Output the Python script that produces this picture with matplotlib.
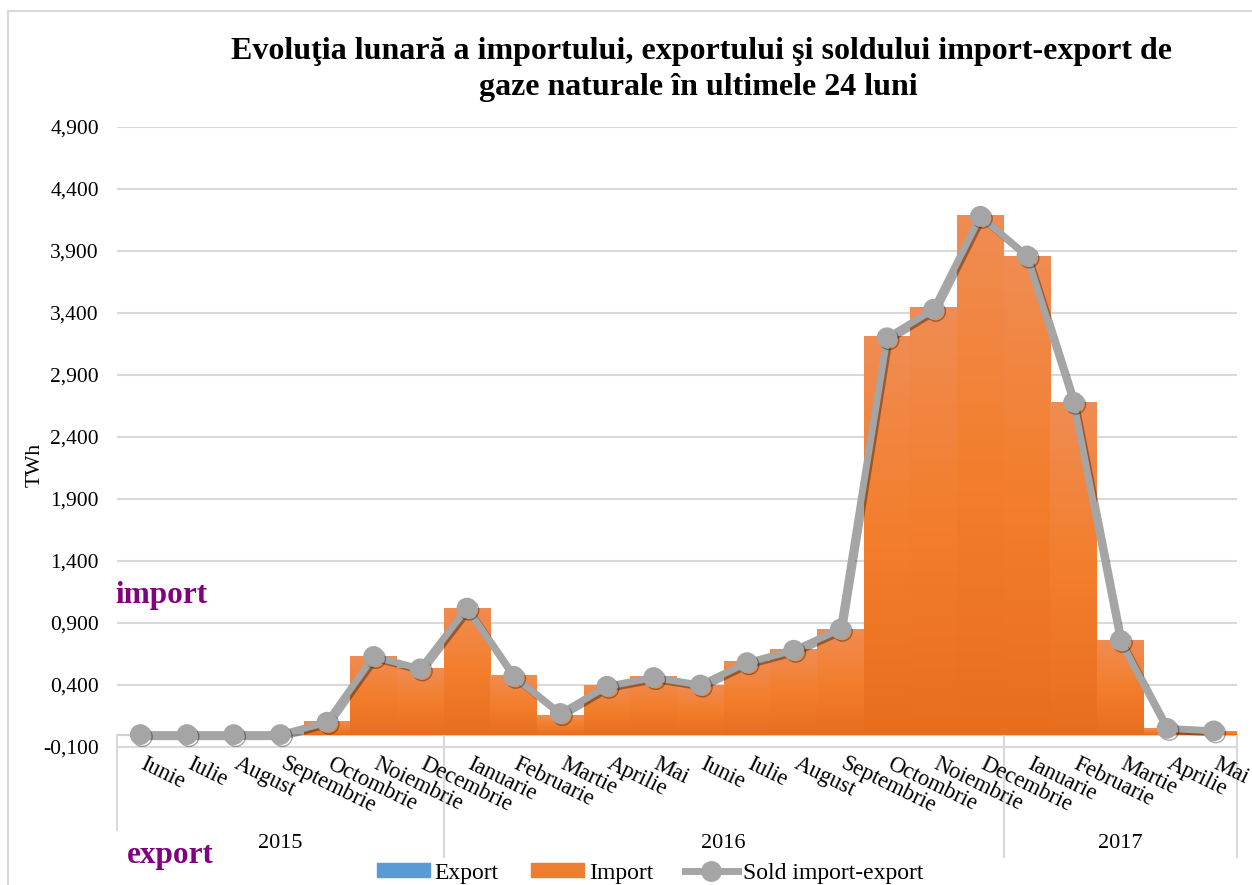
import numpy as np
import matplotlib
matplotlib.use("Agg")
import matplotlib.pyplot as plt
import matplotlib.patheffects as pe
from matplotlib.transforms import blended_transform_factory
from matplotlib.colors import LinearSegmentedColormap
from matplotlib.patches import Patch
from matplotlib.lines import Line2D

plt.rcParams['font.family'] = ['Liberation Serif', 'DejaVu Serif']

# date (TWh)
luni = ['Iunie', 'Iulie', 'August', 'Septembrie', 'Octombrie', 'Noiembrie', 'Decembrie',
        'Ianuarie', 'Februarie', 'Martie', 'Aprilie', 'Mai', 'Iunie', 'Iulie', 'August',
        'Septembrie', 'Octombrie', 'Noiembrie', 'Decembrie',
        'Ianuarie', 'Februarie', 'Martie', 'Aprilie', 'Mai']
ani = ['2015', '2016', '2017']
luni_pe_an = [7, 12, 5]
export = [0, 0, 0, 0, 0, 0, 0, 0, 0, 0, 0, 0, 0, 0, 0, 0, 0, 0, 0, 0, 0, 0, 0, 0]
importul = [0, 0, 0, 0, 0.11, 0.63, 0.54, 1.02, 0.48, 0.16, 0.40, 0.47, 0.40, 0.59, 0.69,
            0.85, 3.21, 3.45, 4.19, 3.86, 2.68, 0.76, 0.05, 0.03]
sold = [0, 0, 0, 0, 0.10, 0.63, 0.53, 1.02, 0.47, 0.17, 0.39, 0.46, 0.40, 0.58, 0.68,
        0.85, 3.20, 3.43, 4.18, 3.86, 2.68, 0.76, 0.05, 0.03]

x = np.arange(len(luni))
fig = plt.figure(figsize=(12.52, 8.85), dpi=100)
ax = fig.add_axes([117/1252, 138/885, 1120/1252, 620/885])

ax.bar(x, export, width=1.0, color='#5B9BD5', zorder=2)
bare = ax.bar(x, importul, width=1.0, color='#ED7D31', zorder=2)

# gradient pe fiecare bara
cmap = LinearSegmentedColormap.from_list('portocaliu', ['#E86E1E', '#F37E2C', '#F08C52'])
grad = np.linspace(0, 1, 100).reshape(-1, 1)
for b in bare:
    if b.get_height() <= 0:
        continue
    ax.imshow(grad, extent=[b.get_x(), b.get_x() + b.get_width(), 0, b.get_height()],
              origin='lower', aspect='auto', cmap=cmap, zorder=2.1)

ax.plot(x, sold, color='#A5A5A5', lw=5, marker='o', ms=14, zorder=4,
        path_effects=[pe.SimpleLineShadow(offset=(1.5, -1.5), alpha=0.35), pe.Normal()])

ax.set_xlim(-0.5, len(luni) - 0.5)
ax.set_ylim(-0.1, 4.9)
yt = np.arange(-0.1, 4.91, 0.5)
ax.set_yticks(yt)
ax.set_yticklabels([('%.3f' % v).replace('.', ',') for v in yt], fontsize=15.5)
ax.tick_params(axis='y', length=0, pad=13)
ax.set_xticks([])
ax.grid(axis='y', color='#D9D9D9', lw=1.5, zorder=0)
ax.set_axisbelow(True)
for s in ['top', 'right', 'left']:
    ax.spines[s].set_visible(False)
ax.spines['bottom'].set_color('#D9D9D9')
ax.spines['bottom'].set_linewidth(1.5)
ax.axhline(0, color='#D0D0D0', lw=1.5, zorder=1)

# etichete luni
tr = blended_transform_factory(ax.transData, ax.transAxes)
for i, l in enumerate(luni):
    ax.text(i - 0.07, -0.01, l, transform=tr, rotation=-26, ha='left', va='top', fontsize=16.3)

# linii separatoare ani si etichete
tr_fig = blended_transform_factory(ax.transData, fig.transFigure)
y0 = 1 - 735/885
poz = [-0.5]
for n in luni_pe_an:
    poz.append(poz[-1] + n)
for k, p in enumerate(poz):
    yb = 1 - 830/885 if k == 0 else 1 - 857/885
    ax.add_line(Line2D([p, p], [y0, yb], transform=tr_fig, color='#D9D9D9', lw=1.5, clip_on=False))
for k, an in enumerate(ani):
    ax.text((poz[k] + poz[k + 1]) / 2, 1 - 844/885, an, transform=tr_fig,
            ha='center', va='center', fontsize=16)

fig.text(0.56, 1 - 52/885, 'Evoluţia lunară a importului, exportului şi soldului import-export de',
         ha='center', va='center', fontsize=23, fontweight='bold')
fig.text(0.558, 1 - 88/885, 'gaze naturale în ultimele 24 luni',
         ha='center', va='center', fontsize=23, fontweight='bold')
fig.text(35/1252, 1 - 465/885, 'TWh', rotation=90, ha='center', va='center', fontsize=15.5)
fig.text(115/1252, 1 - 595/885, 'import', color='#800080', fontsize=22.5, fontweight='bold',
         ha='left', va='center')
fig.text(127/1252, 1 - 856/885, 'export', color='#800080', fontsize=22.5, fontweight='bold',
         ha='left', va='center')

handles = [Patch(color='#5B9BD5'), Patch(color='#ED7D31'),
           Line2D([], [], color='#A5A5A5', lw=5, marker='o', ms=14)]
fig.legend(handles, ['Export', 'Import', 'Sold import-export'], ncol=3, loc='center',
           bbox_to_anchor=(650/1252, 1 - 873/885), frameon=False, fontsize=17,
           handlelength=2.25, handleheight=0.55, handletextpad=0.2, columnspacing=1.35,
           borderpad=0, borderaxespad=0)

# chenar (taiat in dreapta si jos)
fig.add_artist(Line2D([8/1252, 8/1252], [0, 1 - 11/885], color='#D9D9D9', lw=1.5))
fig.add_artist(Line2D([8/1252, 1], [1 - 11/885, 1 - 11/885], color='#D9D9D9', lw=1.5))

fig.savefig('out.png', dpi=100)
